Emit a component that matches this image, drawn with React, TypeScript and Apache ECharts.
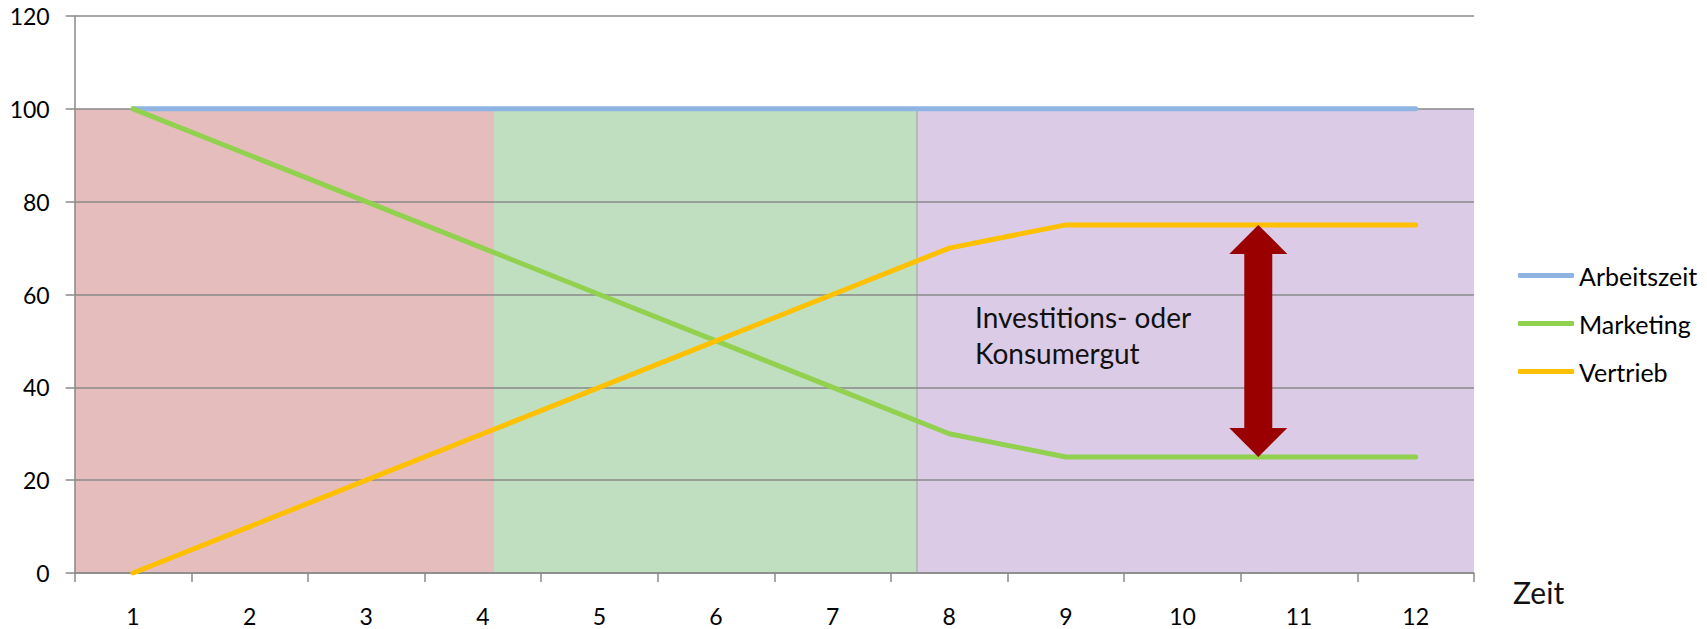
import { useEffect, useRef } from "react";
import * as echarts from "echarts";

// Time periods on the x axis
const periods = ["1", "2", "3", "4", "5", "6", "7", "8", "9", "10", "11", "12"];

// Shares per period (percent of working time)
const arbeitszeit = [100, 100, 100, 100, 100, 100, 100, 100, 100, 100, 100, 100];
const marketing = [100, 90, 80, 70, 60, 50, 40, 30, 25, 25, 25, 25];
const vertrieb = [0, 10, 20, 30, 40, 50, 60, 70, 75, 75, 75, 75];

// Value axis
const yMin = 0;
const yMax = 120;
const yStep = 20;

// Life-cycle phases shaded behind the lines (period coordinates, 0.5 … 12.5)
const phaseStarts = [0.5, 4.096, 7.723];
const phaseEnds = [4.096, 7.723, 12.5];
const phaseTop = [100, 100, 100];

// Gap between Vertrieb and Marketing marked by the double arrow
const spreadPeriod = [10.65];
const spreadLow = [25];
const spreadHigh = [75];

const annotationText = "Investitions- oder\nKonsumergut";
const axisTitle = "Zeit";

const phaseFills = ["#E6BDBD", "#C0DFC0", "#DBCBE6"];
const gridGray = "#8A8A8A";
const labelFont = "Lato, 'Noto Sans', sans-serif";

export default function App() {
  const ref = useRef<HTMLDivElement>(null);

  useEffect(() => {
    if (!ref.current) return;
    const chart = echarts.init(ref.current, undefined, { renderer: "svg" });

    const lineStyle = (color: string) => ({ color, width: 5, cap: "round" as const, join: "round" as const });

    chart.setOption({
      animation: false,
      backgroundColor: "#ffffff",
      grid: { left: 74.7, right: 233, top: 16, bottom: 56, containLabel: false },
      legend: {
        orient: "vertical",
        left: 1513,
        top: 258,
        icon: "roundRect",
        itemWidth: 56,
        itemHeight: 5,
        itemGap: 23,
        data: ["Arbeitszeit", "Marketing", "Vertrieb"],
        textStyle: { fontFamily: labelFont, fontSize: 25, lineHeight: 25, color: "#000" },
      },
      xAxis: [
        {
          type: "category",
          data: periods,
          boundaryGap: true,
          axisLine: { show: true, lineStyle: { color: gridGray, width: 1.5 } },
          axisTick: { show: true, length: 9, alignWithLabel: false, lineStyle: { color: gridGray, width: 1.5 } },
          axisLabel: { color: "#000", fontFamily: labelFont, fontSize: 23, margin: 31 },
          splitLine: { show: false },
        },
        {
          type: "value",
          min: 0.5,
          max: 12.5,
          show: false,
        },
      ],
      yAxis: {
        type: "value",
        min: yMin,
        max: yMax,
        interval: yStep,
        axisLine: { show: true, lineStyle: { color: gridGray, width: 1.5 } },
        axisTick: { show: true, length: 9, inside: false, lineStyle: { color: gridGray, width: 1.5 } },
        axisLabel: { color: "#000", fontFamily: labelFont, fontSize: 23, margin: 25 },
        splitLine: { show: true, lineStyle: { color: gridGray, width: 1.5 } },
      },
      graphic: [
        {
          type: "text",
          left: 975,
          top: 299,
          z: 10,
          style: {
            text: annotationText,
            fontFamily: labelFont,
            fontSize: 28,
            lineHeight: 36,
            fill: "#111",
          },
        },
        {
          type: "text",
          left: 1513,
          top: 577,
          z: 10,
          style: {
            text: axisTitle,
            fontFamily: labelFont,
            fontSize: 30,
            fill: "#111",
          },
        },
      ],
      series: [
        {
          name: "phases",
          type: "custom",
          xAxisIndex: 1,
          yAxisIndex: 0,
          z: -1,
          silent: true,
          data: phaseStarts.map((s, i) => [s, phaseEnds[i], phaseTop[i]]),
          renderItem: (params: any, api: any) => {
            const p0 = api.coord([api.value(0), api.value(2)]);
            const p1 = api.coord([api.value(1), 0]);
            const children: any[] = [
              {
                type: "rect",
                shape: { x: p0[0], y: p0[1], width: p1[0] - p0[0], height: p1[1] - p0[1] },
                style: { fill: phaseFills[params.dataIndex % phaseFills.length] },
              },
            ];
            if (params.dataIndex === 2) {
              children.push({
                type: "line",
                shape: { x1: p0[0], y1: p0[1], x2: p0[0], y2: p1[1] },
                style: { stroke: "#A8A8A8", lineWidth: 1.2 },
              });
            }
            return { type: "group", children };
          },
        },
        {
          name: "Arbeitszeit",
          type: "line",
          data: arbeitszeit,
          symbol: "none",
          color: "#8EB4E3",
          lineStyle: lineStyle("#8EB4E3"),
          z: 3,
        },
        {
          name: "Marketing",
          type: "line",
          data: marketing,
          symbol: "none",
          color: "#92D050",
          lineStyle: lineStyle("#92D050"),
          z: 3,
        },
        {
          name: "Vertrieb",
          type: "line",
          data: vertrieb,
          symbol: "none",
          color: "#FFC000",
          lineStyle: lineStyle("#FFC000"),
          z: 3,
        },
        {
          name: "spread",
          type: "custom",
          xAxisIndex: 1,
          yAxisIndex: 0,
          z: 6,
          silent: true,
          data: spreadPeriod.map((x, i) => [x, spreadLow[i], spreadHigh[i]]),
          renderItem: (_params: any, api: any) => {
            const top = api.coord([api.value(0), api.value(2)]);
            const bot = api.coord([api.value(0), api.value(1)]);
            const cx = top[0];
            const headHalf = 29;
            const headH = 29;
            const shaftHalf = 14;
            return {
              type: "polygon",
              shape: {
                points: [
                  [cx, top[1]],
                  [cx + headHalf, top[1] + headH],
                  [cx + shaftHalf, top[1] + headH],
                  [cx + shaftHalf, bot[1] - headH],
                  [cx + headHalf, bot[1] - headH],
                  [cx, bot[1]],
                  [cx - headHalf, bot[1] - headH],
                  [cx - shaftHalf, bot[1] - headH],
                  [cx - shaftHalf, top[1] + headH],
                  [cx - headHalf, top[1] + headH],
                ],
              },
              style: { fill: "#9B0000" },
            };
          },
        },
      ],
    });

    return () => chart.dispose();
  }, []);

  return (
    <div
      ref={ref}
      style={{ position: "fixed", left: 0, top: 0, width: 1707, height: 629, background: "#fff" }}
    />
  );
}
